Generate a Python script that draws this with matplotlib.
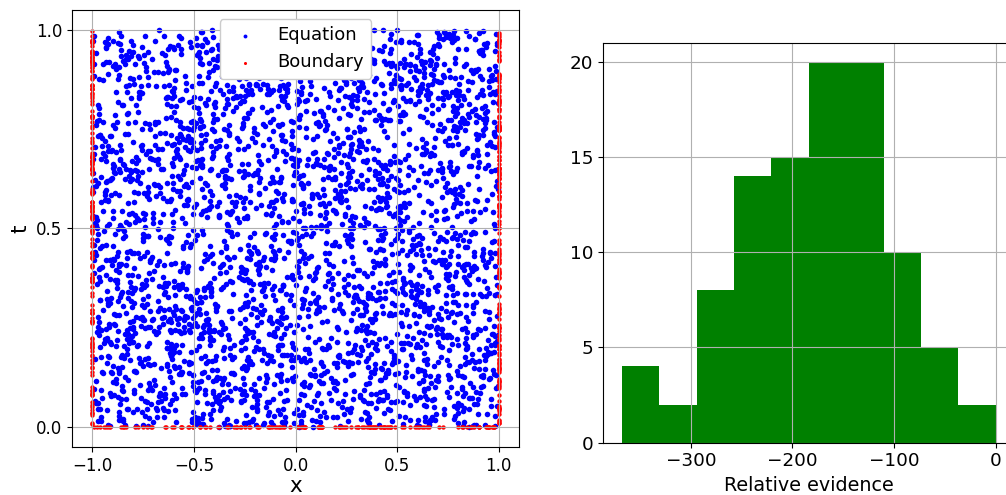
import matplotlib
matplotlib.use("Agg")
import matplotlib.pyplot as plt
import numpy as np

# collocation points of the PDE domain x in [-1, 1], t in [0, 1]
# (the points are a uniform random sample, so they are sampled here with a fixed seed)
n_equation = 3200
n_initial = 140
n_side = 180

# histogram of relative evidence
evidence_bin_edges = [-368.0, -331.2, -294.4, -257.6, -220.8, -184.0,
                      -147.2, -110.4, -73.6, -36.8, 0.0]
evidence_counts = [4, 2, 8, 14, 15, 20, 20, 10, 5, 2]

rng = np.random.default_rng(7)
eq_x = rng.uniform(-1, 1, n_equation)
eq_t = rng.uniform(0, 1, n_equation)
bd_x = np.concatenate([rng.uniform(-1, 1, n_initial),
                       -np.ones(n_side), np.ones(n_side)])
bd_t = np.concatenate([np.zeros(n_initial),
                       rng.uniform(0, 1, n_side), rng.uniform(0, 1, n_side)])

W, H = 1006, 495
fig = plt.figure(figsize=(W / 100, H / 100), dpi=100)

ax1 = fig.add_axes([72 / W, 48 / H, 447 / W, 437 / H])
ax1.scatter(eq_x, eq_t, s=16, c="blue", linewidths=0, label="Equation")
ax1.scatter(bd_x, bd_t, s=10, c="red", linewidths=0, label="Boundary")
ax1.set_xticks([-1.0, -0.5, 0.0, 0.5, 1.0])
ax1.set_yticks([0.0, 0.5, 1.0])
ax1.tick_params(labelsize=12)
ax1.set_xlabel("x", fontsize=15.5, labelpad=1)
ax1.set_ylabel("t", fontsize=15.5)
ax1.grid(True)
ax1.legend(loc="upper center", fontsize=13, framealpha=1, markerscale=0.7)

ax2 = fig.add_axes([603 / W, 52.3 / H, 411.5 / W, 400.2 / H])
centers = [(a + b) / 2 for a, b in zip(evidence_bin_edges[:-1], evidence_bin_edges[1:])]
ax2.hist(centers, bins=evidence_bin_edges, weights=evidence_counts, color="g")
ax2.set_yticks([0, 5, 10, 15, 20])
ax2.tick_params(labelsize=13.2)
ax2.set_xlabel("Relative evidence", fontsize=13.8)
ax2.grid(True)

fig.savefig("out.png", dpi=100)
